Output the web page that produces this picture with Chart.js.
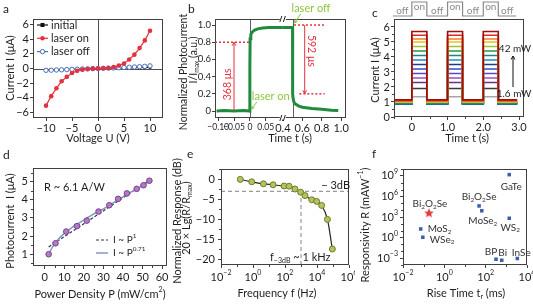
<!DOCTYPE html>
<html><head><meta charset="utf-8">
<script src="https://cdn.jsdelivr.net/npm/chart.js@4.4.1/dist/chart.umd.min.js"></script>
<style>
html,body{margin:0;padding:0;background:#fff;}
body{width:533px;height:305px;position:relative;overflow:hidden}
canvas{position:absolute}
</style></head><body>
<canvas id="pa" width="178" height="150" style="left:0px;top:0px"></canvas>
<canvas id="pb" width="177" height="150" style="left:178px;top:0px"></canvas>
<canvas id="pc" width="178" height="150" style="left:355px;top:0px"></canvas>
<canvas id="pd" width="178" height="155" style="left:0px;top:150px"></canvas>
<canvas id="pe" width="187" height="155" style="left:168px;top:150px"></canvas>
<canvas id="pf" width="178" height="155" style="left:355px;top:150px"></canvas>
<script>
// ================= DATA =================
// (a) I-V curves
const voltageA = [-10,-9,-8,-7,-6,-5,-4,-3,-2,-1,0,1,2,3,4,5,6,7,8,9,10];
const currentInitialA = [-0.2,-0.18,-0.16,-0.14,-0.12,-0.1,-0.08,-0.06,-0.04,-0.02,0,0.01,0.03,0.04,0.05,0.07,0.08,0.1,0.11,0.13,0.15];
const currentOnA = [-5.1,-3.8,-2.72,-1.75,-1.15,-0.62,-0.32,-0.16,-0.07,-0.02,0,0.02,0.07,0.2,0.4,0.68,1.23,1.9,2.8,3.86,5.18];
const currentOffA = [-0.25,-0.23,-0.2,-0.18,-0.15,-0.12,-0.1,-0.07,-0.05,-0.02,0,0.03,0.05,0.08,0.11,0.14,0.17,0.21,0.25,0.3,0.36];
const ticksXA = [-10,-5,0,5,10];
const ticksYA = [-6,-4,-2,0,2,4,6];

// (b) normalized photocurrent (broken time axis)
const timeB1 = [-0.105,-0.08,-0.05,-0.02,0,0,0.0008,0.003,0.008,0.015,0.025,0.04,0.06,0.08,0.104];
const photoB1 = [0,0.005,0,0.005,0,0.5,0.84,0.89,0.92,0.94,0.955,0.965,0.97,0.972,0.972];
const timeB2 = [0.4,0.45,0.5,0.5,0.502,0.505,0.515,0.53,0.56,0.6,0.7,0.8,0.9,0.97];
const photoB2 = [0.972,0.97,0.972,0.3,0.2,0.15,0.1,0.08,0.06,0.045,0.03,0.02,0.01,0.005];
const ticksXB = [-0.10,-0.05,0,0.05,0.4,0.6,0.8,1.0];
const ticksYB = [0,0.2,0.4,0.6,0.8,1.0];

// (c) on/off cycles at increasing power (1.6 mW -> 42 mW)
const onLevelsC  = [1.35,1.9,2.3,2.6,2.9,3.2,3.5,3.8,4.1,4.4,4.7,5.0,5.2,5.45,5.7];
const offLevelsC = [1.0,0.95,0.95,0.9,0.9,0.85,0.85,0.88,0.9,0.95,1.0,1.0,1.05,1.1,1.15];
const edgesC = [0,0.42,1.0,1.42,2.0,2.42];
const spanC = [-0.5,2.95];
const ticksXC = [0,1,2,3];
const ticksYC = [0,1,2,3,4,5,6];

// (d) photocurrent vs power density
const powerD = [2,5.5,11,16.5,21.5,27.5,33,37.5,42,47,50.5,53.5];
const photoD = [1.0,1.6,2.25,2.55,2.85,3.35,3.7,4.05,4.35,4.6,4.8,5.05];
const linFitP = [2,54];
const linFitI = [1.4,5.1];
const powFitP = [2,4,6,9,13,18,24,30,36,42,48,54];
const powFitI = [1.0,1.4,1.7,2.05,2.4,2.75,3.15,3.5,3.9,4.3,4.65,5.05];
const ticksXD = [0,10,20,30,40,50,60];
const ticksYD = [1,2,3,4,5];

// (e) frequency response
const freqE = [0.16,0.83,4.5,18,87,180,420,950,1780,4700,9500,19500,45000,91000];
const respE = [0,-0.6,-1.1,-1.35,-1.65,-1.7,-2.4,-3.2,-4.05,-5.1,-5.5,-6.5,-10,-17.4];
const ticksXE = [1e-2,1,1e2,1e4,1e6];
const ticksYE = [0,-5,-10,-15,-20];

// (f) responsivity vs rise time
const materialsF = ['GaTe','Bi_{2}O_{2}Se','MoSe_{2}','WS_{2}','MoS_{2}','WSe_{2}','BP','Bi','InSe'];
const riseTimeF = [1380,48,65,1380,0.072,0.091,316,600,3400];
const responsivityF = [1.5e9,4.1e4,8.1e3,650,18,1.1,6.9e-4,4.9e-4,8.9e-4];
const thisWorkLabelF = 'Bi_{2}O_{2}Se';
const thisWorkRiseF = [0.18];
const thisWorkRespF = [3500];
const ticksXF = [1e-2,1,1e2,1e4];
const ticksYF = [1e-3,1,1e3,1e6,1e9];

// ================= STYLE / HELPERS =================
const FONT = 'Lato, "Open Sans", "DejaVu Sans", sans-serif';
const TXT = '#1e1e1e', AX = '#404040', RED = '#e4313f', LGREEN = '#8cc63e';
Chart.defaults.font.family = FONT;
Chart.defaults.color = TXT;
// label offsets for panel f (pixels relative to point)
const labelOffF = [[2,12,'center'],[0,-9,'center'],[1,10,'center'],[1,9,'center'],[7,0,'left'],[7,2,'left'],[-5,-7,'center'],[1,-7,'center'],[4,-6,'center']];

function richParts(str){
  const parts=[]; let i=0, buf='';
  while(i<str.length){
    const c=str[i];
    if((c==='_'||c==='^') && str[i+1]==='{'){
      if(buf){parts.push({t:buf,m:0});buf='';}
      const j=str.indexOf('}',i);
      parts.push({t:str.slice(i+2,j),m:c==='_'?1:2});
      i=j+1;
    } else {buf+=c;i++;}
  }
  if(buf) parts.push({t:buf,m:0});
  return parts;
}
function drawRich(ctx,str,x,y,o){
  o=o||{};
  const size=o.size||11, fam=o.family||FONT;
  const parts=richParts(str);
  ctx.save();
  ctx.translate(x,y); if(o.rot) ctx.rotate(o.rot);
  ctx.fillStyle=o.color||TXT; ctx.textBaseline='middle'; ctx.textAlign='left';
  let w=0;
  for(const p of parts){ctx.font=(p.m?size*0.64:size)+'px '+fam; p.w=ctx.measureText(p.t).width; w+=p.w;}
  let cx=o.align==='left'?0:(o.align==='right'?-w:-w/2);
  for(const p of parts){
    ctx.font=(p.m?size*0.64:size)+'px '+fam;
    const dy=p.m===1?size*0.3:(p.m===2?-size*0.36:0);
    ctx.fillText(p.t,cx,dy); cx+=p.w;
  }
  ctx.restore();
}
function line(ctx,x1,y1,x2,y2,color,w,dash){
  ctx.save(); ctx.strokeStyle=color; ctx.lineWidth=w||1; if(dash) ctx.setLineDash(dash);
  ctx.beginPath(); ctx.moveTo(x1,y1); ctx.lineTo(x2,y2); ctx.stroke(); ctx.restore();
}
function arrow(ctx,x1,y1,x2,y2,color,h,w){
  h=h||4;
  ctx.save(); ctx.strokeStyle=color; ctx.lineWidth=w||1;
  ctx.beginPath(); ctx.moveTo(x1,y1); ctx.lineTo(x2,y2); ctx.stroke();
  const a=Math.atan2(y2-y1,x2-x1);
  ctx.beginPath();
  ctx.moveTo(x2-h*Math.cos(a-0.5),y2-h*Math.sin(a-0.5)); ctx.lineTo(x2,y2);
  ctx.lineTo(x2-h*Math.cos(a+0.5),y2-h*Math.sin(a+0.5)); ctx.stroke();
  ctx.restore();
}
function box(chart){
  const {ctx,chartArea:a}=chart;
  ctx.save(); ctx.strokeStyle=AX; ctx.lineWidth=1;
  ctx.strokeRect(Math.round(a.left)+0.5,Math.round(a.top)+0.5,Math.round(a.right-a.left)-1,Math.round(a.bottom-a.top)-1);
  ctx.restore();
}
function minor(chart,id,vals){
  const s=chart.scales[id],a=chart.chartArea,ctx=chart.ctx;
  ctx.save(); ctx.strokeStyle=AX; ctx.lineWidth=1; ctx.beginPath();
  for(const v of vals){
    const p=Math.round(s.getPixelForValue(v))+0.5;
    if(id==='x'){ctx.moveTo(p,a.bottom);ctx.lineTo(p,a.bottom+2);}
    else {ctx.moveTo(a.left,p);ctx.lineTo(a.left-2,p);}
  }
  ctx.stroke(); ctx.restore();
}
function logLabels(chart,id,vals,dx,dy){
  const s=chart.scales[id],a=chart.chartArea,ctx=chart.ctx;
  for(const v of vals){
    const e=Math.round(Math.log10(v));
    const str='10^{'+(e<0?'−'+(-e):e)+'}';
    if(id==='x') drawRich(ctx,str,s.getPixelForValue(v)+dx,a.bottom+dy,{size:11,align:'center'});
    else drawRich(ctx,str,a.left-dx,s.getPixelForValue(v)+dy,{size:11,align:'right'});
  }
}
const minus=v=>(v<0?'−'+Math.abs(v):String(v));
function axis(o){
  return {
    type:o.type||'linear', min:o.min, max:o.max, position:o.pos,
    afterBuildTicks:s=>{s.ticks=o.ticks.map(v=>({value:v}));},
    afterFit:s=>{ if(o.pos==='bottom') s.height=o.size; else s.width=o.size; },
    ticks:{display:!o.custom, autoSkip:false, maxRotation:0, minRotation:0, padding:(o.pad!==undefined?o.pad:2),
      color:TXT, font:o.font||{family:FONT,size:11}, callback:o.fmt||(v=>minus(v))},
    grid:{drawOnChartArea:false, drawTicks:true, tickLength:3, color:AX, lineWidth:1},
    border:{display:false}
  };
}
function pts(xs,ys){return xs.map((x,i)=>({x:x,y:ys[i]}));}
function make(id,datasets,pad,sx,sy,plugin){
  return new Chart(document.getElementById(id),{
    type:'scatter',
    data:{datasets:datasets},
    options:{responsive:false,animation:false,events:[],
      layout:{padding:pad},
      plugins:{legend:{display:false},tooltip:{enabled:false}},
      scales:{x:sx,y:sy}},
    plugins:[plugin]
  });
}
const letter=(ctx,s,x,y)=>drawRich(ctx,s,x,y,{size:12,align:'left'});

// ================= PANEL a =================
make('pa',[
  {data:pts(voltageA,currentOnA),showLine:true,borderColor:RED,backgroundColor:RED,borderWidth:1.2,pointRadius:2.3,pointBorderWidth:0},
  {data:pts(voltageA,currentOffA),showLine:true,borderColor:'#4a6fb5',backgroundColor:'#fff',borderWidth:1,pointRadius:2.2,pointBorderWidth:1},
  {data:pts(voltageA,currentInitialA),showLine:true,borderColor:'#111',backgroundColor:'#111',borderWidth:1,pointStyle:'rect',pointRadius:2,pointBorderWidth:0}
],{top:19,right:15,left:0,bottom:0},
axis({pos:'bottom',min:-12.5,max:12.5,ticks:ticksXA,size:32,pad:1}),
axis({pos:'left',min:-6.8,max:6.8,ticks:ticksYA,size:33,pad:1}),
{id:'pa',beforeDatasetsDraw(c){
  const a=c.chartArea,x0=c.scales.x.getPixelForValue(0),y0=c.scales.y.getPixelForValue(0);
  line(c.ctx,Math.round(x0)+0.5,a.top,Math.round(x0)+0.5,a.bottom,'#505050',1);
  line(c.ctx,a.left,Math.round(y0)+0.5,a.right,Math.round(y0)+0.5,'#505050',1);
},afterDraw(c){
  const ctx=c.ctx; box(c);
  const rows=[['initial','#111','sq'],['laser on',RED,'dot'],['laser off','#4a6fb5','open']];
  rows.forEach((r,i)=>{
    const y=25+i*13.3;
    line(ctx,37,y,48,y,r[1],1.2);
    ctx.save(); ctx.fillStyle=r[1]; ctx.strokeStyle=r[1];
    if(r[2]==='sq') ctx.fillRect(40.5,y-2,4,4);
    else {ctx.beginPath();ctx.arc(42.5,y,2.2,0,Math.PI*2); if(r[2]==='dot') ctx.fill(); else {ctx.fillStyle='#fff';ctx.fill();ctx.stroke();}}
    ctx.restore();
    drawRich(ctx,r[0],51,y,{size:11,align:'left'});
  });
  drawRich(ctx,'Current I (μA)',10,68,{size:11,rot:-Math.PI/2});
  drawRich(ctx,'Voltage U (V)',98,138,{size:11});
  letter(ctx,'a',3,9);
}});

// ================= PANEL b =================
const BREAK_L=0.104, BREAK_R=0.4, RATIO=0.3066;
const uB=t=>(t<=0.2?t:BREAK_L+(t-BREAK_R)*RATIO);
const fmtB=t=>(t===0?'0':(t<0?'−':'')+Math.abs(t).toFixed(Math.abs(t)<0.2?2:1));
const GREEN='#1f8c3d';
make('pb',[
  {data:timeB1.map((t,i)=>({x:uB(t),y:photoB1[i]})),showLine:true,borderColor:GREEN,borderWidth:3,pointRadius:0},
  {data:timeB2.map((t,i)=>({x:uB(t),y:photoB2[i]})),showLine:true,borderColor:GREEN,borderWidth:3,pointRadius:0}
],{top:19,right:9,left:0,bottom:0},
{...axis({pos:'bottom',min:-0.11,max:BREAK_L+(1.05-BREAK_R)*RATIO,ticks:ticksXB.map(uB),size:32,pad:1}),
 ticks:{autoSkip:false,maxRotation:0,minRotation:0,padding:1,color:TXT,
  font:(ctx)=>(ctx.index<4?{family:FONT,size:8.5}:{family:FONT,size:11}),
  callback:(v,i)=>fmtB(ticksXB[i])}},
axis({pos:'left',min:-0.081,max:1.07,ticks:ticksYB,size:37,pad:1,font:{family:FONT,size:9.5},fmt:v=>(v===0?'0':v.toFixed(1))}),
{id:'pb',beforeDatasetsDraw(c){
  const a=c.chartArea,X=t=>c.scales.x.getPixelForValue(uB(t));
  line(c.ctx,Math.round(X(0))+0.5,a.top,Math.round(X(0))+0.5,a.bottom,'#606060',1);
  line(c.ctx,Math.round(X(0.5))+0.5,a.top,Math.round(X(0.5))+0.5,a.bottom,'#606060',1);
},afterDraw(c){
  const ctx=c.ctx,a=c.chartArea,X=t=>c.scales.x.getPixelForValue(uB(t)),Y=v=>c.scales.y.getPixelForValue(v);
  box(c);
  const bx=X(BREAK_R);
  [a.top,a.bottom].forEach(yy=>{
    ctx.save(); ctx.fillStyle='#fff'; ctx.fillRect(bx-3,yy-1.5,6,3); ctx.restore();
    line(ctx,bx-3,yy+3,bx-1,yy-3,'#222',1); line(ctx,bx+0.5,yy+3,bx+2.5,yy-3,'#222',1);
  });
  line(ctx,a.left,Y(0.8),X(0),Y(0.8),RED,1.5,[2,2]);
  line(ctx,X(0.515),Y(1.0),X(0.83),Y(1.0),RED,1.5,[2,2]);
  line(ctx,X(0.57),Y(0.2),X(0.83),Y(0.2),RED,1.5,[2,2]);
  arrow(ctx,X(-0.05),Y(0),X(-0.05),Y(0.8),RED,4,1);
  arrow(ctx,X(0.625),Y(1.0),X(0.625),Y(0.2),RED,4,1);
  drawRich(ctx,'368 μs',X(-0.05)-6,Y(0.31),{size:10.5,rot:-Math.PI/2,color:RED});
  drawRich(ctx,'592 μs',X(0.625)+7,Y(0.7),{size:10.5,rot:Math.PI/2,color:RED});
  drawRich(ctx,'laser on',X(0)+2,96,{size:11,align:'left',color:LGREEN});
  arrow(ctx,X(0)+7,102,X(0)+1.5,109,LGREEN,3.5,1);
  drawRich(ctx,'laser off',X(0.5)-1,8,{size:11,align:'left',color:LGREEN});
  arrow(ctx,X(0.5)+8,14,X(0.5)+2,23,LGREEN,3.5,1);
  drawRich(ctx,'Normalized Photocurrent',6,72,{size:10.5,rot:-Math.PI/2});
  drawRich(ctx,'I/I_{max} (a.u.)',16,60,{size:10.5,rot:-Math.PI/2});
  drawRich(ctx,'Time t (s)',112,138,{size:11});
  letter(ctx,'b',10,9);
}});

// ================= PANEL c =================
const colorsC=['#a6a6a6','#3a3a3a','#6b2d8c','#9a52c2','#5a48c8','#2c52c4','#1f3a8c','#1f8fd0','#14898a','#2a9a3a','#9cc23a','#f0c020','#f08020','#e02a20','#9a1010'];
function squareWave(off,on){
  const p=[{x:spanC[0],y:off}];
  for(let k=0;k<edgesC.length;k+=2){p.push({x:edgesC[k],y:off},{x:edgesC[k],y:on},{x:edgesC[k+1],y:on},{x:edgesC[k+1],y:off});}
  p.push({x:spanC[1],y:off}); return p;
}
const dsC=onLevelsC.map((on,i)=>({data:squareWave(offLevelsC[i],on),showLine:true,borderColor:colorsC[i],borderWidth:1.6,pointRadius:0})).reverse();
make('pc',dsC,{top:19,right:9,left:0,bottom:0},
axis({pos:'bottom',min:-0.5,max:3.14,ticks:ticksXC,size:33,pad:1,fmt:v=>(v===0?'0':v.toFixed(1))}),
axis({pos:'left',min:0,max:6.53,ticks:ticksYC,size:39,pad:1}),
{id:'pc',afterDraw(c){
  const ctx=c.ctx,a=c.chartArea,X=t=>c.scales.x.getPixelForValue(t);
  box(c);
  minor(c,'y',[0.5,1.5,2.5,3.5,4.5,5.5]);
  minor(c,'x',[-0.5,0.5,1.5,2.5]);
  const yOff=16,yOn=2;
  ctx.save(); ctx.strokeStyle='#8a8a8a'; ctx.lineWidth=1.2; ctx.beginPath();
  ctx.moveTo(X(-0.53),yOff);
  for(let k=0;k<edgesC.length;k+=2){ctx.lineTo(X(edgesC[k]),yOff);ctx.lineTo(X(edgesC[k]),yOn);ctx.lineTo(X(edgesC[k+1]),yOn);ctx.lineTo(X(edgesC[k+1]),yOff);}
  ctx.lineTo(X(2.92),yOff); ctx.stroke(); ctx.restore();
  [-0.265,0.71,1.71,2.67].forEach(t=>drawRich(ctx,'off',X(t),11,{size:10,color:'#8a8a8a'}));
  [0.21,1.21,2.21].forEach(t=>drawRich(ctx,'on',X(t),7,{size:10,color:'#8a8a8a'}));
  arrow(ctx,158,87,158,56,'#111',4,1);
  drawRich(ctx,'42 mW',160,49,{size:10});
  drawRich(ctx,'1.6 mW',159,94,{size:10});
  drawRich(ctx,'Current I (μA)',20,70,{size:11,rot:-Math.PI/2});
  drawRich(ctx,'Time t (s)',112,138,{size:11});
  letter(ctx,'c',17,13);
}});

// ================= PANEL d =================
make('pd',[
  {data:pts(powerD,photoD),showLine:false,pointRadius:2.8,backgroundColor:'#b27cc4',borderColor:'#7d3d8f',pointBorderWidth:1},
  {data:pts(powFitP,powFitI),showLine:true,borderColor:'#7d9ac8',borderWidth:1.5,pointRadius:0,cubicInterpolationMode:'monotone'},
  {data:pts(linFitP,linFitI),showLine:true,borderColor:'#333',borderWidth:1.2,borderDash:[3,2],pointRadius:0}
],{top:18,right:11,left:0,bottom:0},
axis({pos:'bottom',min:-6,max:62.5,ticks:ticksXD,size:39,pad:2}),
axis({pos:'left',min:0.35,max:5.75,ticks:ticksYD,size:33,pad:2}),
{id:'pd',afterDraw(c){
  const ctx=c.ctx; box(c);
  minor(c,'x',[5,15,25,35,45,55]);
  minor(c,'y',[0.5,1.5,2.5,3.5,4.5,5.5]);
  drawRich(ctx,'R ~ 6.1 A/W',44,37,{size:11,align:'left'});
  line(ctx,96,90,108,90,'#333',1.2,[3,2]);
  drawRich(ctx,'I ~ P^{1}',113,90,{size:10,align:'left'});
  line(ctx,96,103,108,103,'#7d9ac8',1.5);
  drawRich(ctx,'I ~ P^{0.71}',113,103,{size:10,align:'left'});
  drawRich(ctx,'Photocurrent  I (μA)',10,71,{size:11,rot:-Math.PI/2});
  drawRich(ctx,'Power Density P (mW/cm^{2})',100,144,{size:11});
  letter(ctx,'d',3,5);
}});

// ================= PANEL e =================
make('pe',[
  {data:pts(freqE,respE),showLine:true,borderColor:'#222',borderWidth:1.2,pointRadius:3,backgroundColor:'#b8c25c',pointBorderColor:'#6e7c2e',pointBorderWidth:1,cubicInterpolationMode:'monotone'}
],{top:19,right:6,left:0,bottom:0},
axis({type:'logarithmic',pos:'bottom',min:1e-2,max:1e6,ticks:ticksXE,size:40,custom:true}),
axis({pos:'left',min:-21.4,max:2.6,ticks:ticksYE,size:53,pad:3}),
{id:'pe',beforeDatasetsDraw(c){
  const ctx=c.ctx,a=c.chartArea,X=v=>c.scales.x.getPixelForValue(v),Y=v=>c.scales.y.getPixelForValue(v);
  line(ctx,a.left,Y(-3),a.right,Y(-3),'#9a9a9a',1.2,[4,3]);
  line(ctx,X(1000),a.bottom,X(1000),Y(-3),'#9a9a9a',1.2,[4,3]);
},afterDraw(c){
  const ctx=c.ctx,a=c.chartArea,X=v=>c.scales.x.getPixelForValue(v),Y=v=>c.scales.y.getPixelForValue(v);
  box(c);
  minor(c,'x',[1e-1,10,1e3,1e5]);
  minor(c,'y',[2.5,-2.5,-7.5,-12.5,-17.5]);
  logLabels(c,'x',ticksXE,0,12);
  drawRich(ctx,'− 3dB',a.right+1,Y(-3)-6,{size:11,align:'right'});
  drawRich(ctx,'f_{−3dB} ~ 1 kHz',X(1000)-31,a.bottom-8,{size:11,align:'left'});
  drawRich(ctx,'Normalized Response (dB)',9,71,{size:11,rot:-Math.PI/2});
  drawRich(ctx,'20 × Lg(R/R_{max})',18,68,{size:11,rot:-Math.PI/2});
  drawRich(ctx,'Frequency f (Hz)',109,143,{size:11});
  letter(ctx,'e',19,4);
}});

// ================= PANEL f =================
function starImg(r,color){
  const cv=document.createElement('canvas'); const s=Math.ceil(r*2+2); cv.width=cv.height=s;
  const g=cv.getContext('2d'); g.fillStyle=color; g.beginPath();
  for(let i=0;i<10;i++){const an=-Math.PI/2+i*Math.PI/5; const rr=i%2?r*0.45:r; g.lineTo(s/2+rr*Math.cos(an),s/2+rr*Math.sin(an));}
  g.closePath(); g.fill(); return cv;
}
make('pf',[
  {data:pts(thisWorkRiseF,thisWorkRespF),pointStyle:starImg(5,'#e23a3a'),pointRadius:5},
  {data:pts(riseTimeF,responsivityF),pointStyle:'rect',pointRadius:2.5,backgroundColor:'#3a5fb0',borderColor:'#3a5fb0',pointBorderWidth:0}
],{top:19,right:6,left:0,bottom:0},
axis({type:'logarithmic',pos:'bottom',min:1e-2,max:1e4,ticks:ticksXF,size:40,custom:true}),
axis({type:'logarithmic',pos:'left',min:1e-4,max:1e10,ticks:ticksYF,size:48,custom:true}),
{id:'pf',afterDraw(c){
  const ctx=c.ctx,X=v=>c.scales.x.getPixelForValue(v),Y=v=>c.scales.y.getPixelForValue(v);
  box(c);
  minor(c,'x',[1e-1,10,1e3]);
  minor(c,'y',[1e-4,1e-2,1e-1,1e1,1e2,1e4,1e5,1e7,1e8,1e10]);
  logLabels(c,'x',ticksXF,0,12);
  logLabels(c,'y',ticksYF,5,0);
  materialsF.forEach((m,i)=>{
    const o=labelOffF[i];
    drawRich(ctx,m,X(riseTimeF[i])+o[0],Y(responsivityF[i])+o[1],{size:10,align:o[2],color:'#333'});
  });
  drawRich(ctx,thisWorkLabelF,X(thisWorkRiseF[0])+1,Y(thisWorkRespF[0])-9,{size:10,color:'#333'});
  drawRich(ctx,'Responsivity R (mAW^{−1})',10,75,{size:11,rot:-Math.PI/2});
  drawRich(ctx,'Rise Time t_{r} (ms)',111,143,{size:11});
  letter(ctx,'f',17,4);
}});
</script></body></html>
